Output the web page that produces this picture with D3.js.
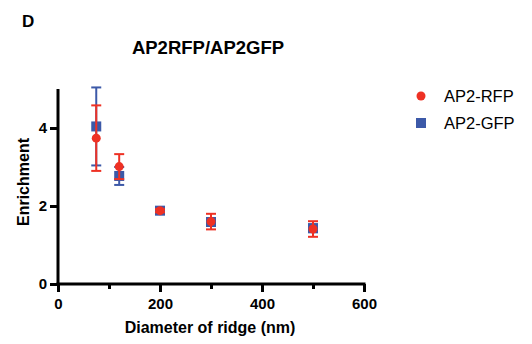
<!DOCTYPE html>
<html><head><meta charset="utf-8">
<script src="https://cdn.jsdelivr.net/npm/d3@7"></script>
<style>body{margin:0;background:#fff}text{font-family:"Liberation Sans",Arial,sans-serif}</style>
</head><body>
<svg id="c" width="532" height="344"></svg>
<script>
const diameters = [75, 120, 200, 300, 500];
const rfpMean = [3.74, 3.01, 1.88, 1.60, 1.41];
const rfpErr  = [0.84, 0.32, 0.04, 0.20, 0.20];
const gfpMean = [4.04, 2.77, 1.88, 1.59, 1.43];
const gfpErr  = [1.00, 0.23, 0.04, 0.10, 0.10];
const xTicks = [0, 200, 400, 600];
const xMinor = [100, 300, 500];
const yTicks = [0, 2, 4];
const seriesNames = ["AP2-RFP", "AP2-GFP"];

const RED = "#ee3124", BLUE = "#3c59a8";
const svg = d3.select("#c");
const x = d3.scaleLinear().domain([0, 600]).range([58, 364]);
const y = d3.scaleLinear().domain([0, 5]).range([284, 89]);

// axes
const gx = svg.append("g").attr("transform", `translate(0,${y(0)})`)
  .call(d3.axisBottom(x).tickValues(xTicks).tickSize(8).tickPadding(6).tickFormat(d3.format("d")));
const gxm = svg.append("g").attr("transform", `translate(0,${y(0)})`)
  .call(d3.axisBottom(x).tickValues(xMinor).tickSize(5).tickFormat(""));
const gy = svg.append("g").attr("transform", `translate(${x(0)},0)`)
  .call(d3.axisLeft(y).tickValues(yTicks).tickSize(8).tickPadding(3).tickFormat(d3.format("d")));
[gx, gxm, gy].forEach(g => {
  g.select(".domain").attr("stroke", "#000").attr("stroke-width", 3);
  g.selectAll(".tick line").attr("stroke", "#000").attr("stroke-width", 3);
  g.selectAll(".tick text").attr("fill", "#000").attr("font-size", 15).attr("font-weight", "bold");
});
gx.select(".domain").attr("d", `M${x(0)-1.5},0H${x(600)+1.5}`);
gxm.select(".domain").remove();
gy.select(".domain").attr("d", `M0,${y(0)+1.5}V${y(5)}`);

// error bars & markers
function errorBars(mean, err, color) {
  const g = svg.append("g").attr("stroke", color).attr("stroke-width", 2);
  diameters.forEach((d, i) => {
    const cx = x(d), t = y(mean[i] + err[i]), b = y(mean[i] - err[i]);
    g.append("line").attr("x1", cx).attr("x2", cx).attr("y1", t).attr("y2", b);
    g.append("line").attr("x1", cx - 5).attr("x2", cx + 5).attr("y1", t).attr("y2", t);
    g.append("line").attr("x1", cx - 5).attr("x2", cx + 5).attr("y1", b).attr("y2", b);
  });
}
errorBars(gfpMean, gfpErr, BLUE);
svg.append("g").selectAll("rect").data(diameters).join("rect")
  .attr("x", d => x(d) - 5).attr("y", (d, i) => y(gfpMean[i]) - 5)
  .attr("width", 10).attr("height", 10).attr("fill", BLUE);
errorBars(rfpMean, rfpErr, RED);
svg.append("g").selectAll("circle").data(diameters).join("circle")
  .attr("cx", d => x(d)).attr("cy", (d, i) => y(rfpMean[i])).attr("r", 4.5).attr("fill", RED);

// texts
svg.append("text").attr("x", 22).attr("y", 27).attr("font-size", 17).attr("font-weight", "bold").text("D");
svg.append("text").attr("x", 208).attr("y", 54).attr("text-anchor", "middle")
  .attr("font-size", 18.5).attr("font-weight", "bold").text("AP2RFP/AP2GFP");
svg.append("text").attr("x", 210).attr("y", 333).attr("text-anchor", "middle")
  .attr("font-size", 16).attr("font-weight", "bold").text("Diameter of ridge (nm)");
svg.append("text").attr("transform", "translate(29,182) rotate(-90)").attr("text-anchor", "middle")
  .attr("font-size", 16).attr("font-weight", "bold").text("Enrichment");

// legend
const leg = svg.append("g");
leg.append("circle").attr("cx", 421).attr("cy", 96).attr("r", 4.5).attr("fill", RED);
leg.append("rect").attr("x", 416).attr("y", 118).attr("width", 10).attr("height", 10).attr("fill", BLUE);
seriesNames.forEach((n, i) => {
  leg.append("text").attr("x", 444).attr("y", 102 + i * 27).attr("font-size", 16.5).attr("fill", "#000").text(n);
});
</script>
</body></html>
